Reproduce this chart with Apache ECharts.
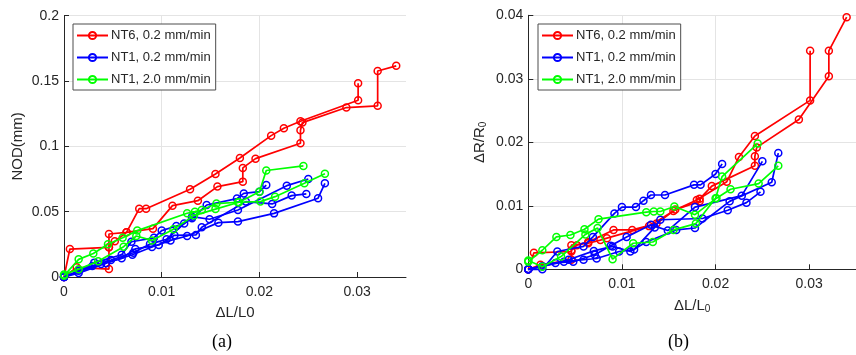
<!DOCTYPE html>
<html>
<head>
<meta charset="utf-8">
<script src="https://cdn.jsdelivr.net/npm/echarts@6/dist/echarts.min.js"></script>
<style>
  html, body { margin: 0; padding: 0; background: #ffffff; }
  #chart { width: 856px; height: 355px; }
</style>
</head>
<body>
<div id="chart"></div>
<script>
// Tick labels
const strainTicks = [0, 0.01, 0.02, 0.03];
const nodTicks = [0, 0.05, 0.1, 0.15, 0.2];
const resTicks = [0, 0.01, 0.02, 0.03, 0.04];
const legendNames = ['NT6, 0.2 mm/min', 'NT1, 0.2 mm/min', 'NT1, 2.0 mm/min'];

// NT6, 0.2 mm/min : two loading ramps (strain, NOD in mm, dR/R0)
const nt6aStrain = [0, 0.0006, 0.0046, 0.0046, 0.0064, 0.0077, 0.0084, 0.0129, 0.0155, 0.0180, 0.0212, 0.0225, 0.0242, 0.0301, 0.0301];
const nt6aNod    = [0, 0.0214, 0.0227, 0.0329, 0.0342, 0.0523, 0.0523, 0.0671, 0.0789, 0.0911, 0.1082, 0.1139, 0.1192, 0.1353, 0.1483];
const nt6aRes    = [0, 0.0026, 0.0028, 0.0038, 0.0041, 0.0046, 0.0049, 0.0068, 0.0092, 0.0109, 0.0138, 0.0177, 0.0210, 0.0266, 0.0344];

const nt6bStrain = [0, 0.0013, 0.0046, 0.0046, 0.0052, 0.0064, 0.0091, 0.0111, 0.0137, 0.0157, 0.0183, 0.0183, 0.0196, 0.0242, 0.0242, 0.0244, 0.0289, 0.0321, 0.0321, 0.0340];
const nt6bNod    = [0, 0.0074, 0.0061, 0.0227, 0.0273, 0.0342, 0.0370, 0.0546, 0.0584, 0.0692, 0.0730, 0.0835, 0.0906, 0.1024, 0.1123, 0.1182, 0.1297, 0.1310, 0.1577, 0.1616];
const nt6bRes    = [0, 0.0007, 0.0015, 0.0030, 0.0038, 0.0043, 0.0062, 0.0062, 0.0072, 0.0094, 0.0107, 0.0111, 0.0131, 0.0163, 0.0178, 0.0192, 0.0236, 0.0304, 0.0344, 0.0397];

// NT1, 0.2 mm/min : four loading ramps
const nt1aStrain = [0, 0.0015, 0.0031, 0.0059, 0.0069, 0.0092, 0.0100, 0.0115, 0.0123, 0.0131, 0.0146, 0.0177, 0.0184, 0.0200, 0.0207];
const nt1aNod    = [0, 0.0048, 0.0110, 0.0170, 0.0270, 0.0300, 0.0355, 0.0390, 0.0410, 0.0449, 0.0551, 0.0600, 0.0640, 0.0653, 0.0704];
const nt1aRes    = [0, 0.0000, 0.0028, 0.0036, 0.0051, 0.0088, 0.0098, 0.0098, 0.0108, 0.0117, 0.0117, 0.0133, 0.0133, 0.0150, 0.0166];

const nt1bStrain = [0, 0.0029, 0.0048, 0.0071, 0.0088, 0.0105, 0.0131, 0.0149, 0.0178, 0.0228, 0.0250];
const nt1bNod    = [0, 0.0085, 0.0130, 0.0186, 0.0253, 0.0289, 0.0462, 0.0442, 0.0513, 0.0699, 0.0750];
const nt1bRes    = [0, 0.0010, 0.0012, 0.0023, 0.0037, 0.0051, 0.0070, 0.0061, 0.0098, 0.0116, 0.0170];

const nt1cStrain = [0, 0.0038, 0.0059, 0.0073, 0.0097, 0.0113, 0.0135, 0.0141, 0.0186, 0.0213, 0.0233, 0.0248];
const nt1cNod    = [0, 0.0100, 0.0143, 0.0215, 0.0245, 0.0319, 0.0322, 0.0380, 0.0577, 0.0559, 0.0623, 0.0636];
const nt1cRes    = [0, 0.0012, 0.0015, 0.0017, 0.0028, 0.0031, 0.0066, 0.0078, 0.0080, 0.0093, 0.0105, 0.0122];

const nt1dStrain = [0, 0.0015, 0.0043, 0.0070, 0.0090, 0.0109, 0.0126, 0.0158, 0.0178, 0.0215, 0.0260, 0.0267];
const nt1dNod    = [0, 0.0030, 0.0105, 0.0170, 0.0230, 0.0280, 0.0314, 0.0416, 0.0424, 0.0487, 0.0603, 0.0717];
const nt1dRes    = [0, 0.0005, 0.0015, 0.0029, 0.0036, 0.0028, 0.0043, 0.0062, 0.0065, 0.0107, 0.0137, 0.0183];

// NT1, 2.0 mm/min : two loading ramps
const nt1fStrain = [0, 0.0015, 0.0030, 0.0045, 0.0060, 0.0075, 0.0126, 0.0134, 0.0141, 0.0156, 0.0178, 0.0201, 0.0216, 0.0246, 0.0267];
const nt1fNod    = [0.0010, 0.0135, 0.0180, 0.0250, 0.0300, 0.0355, 0.0488, 0.0500, 0.0513, 0.0562, 0.0572, 0.0577, 0.0615, 0.0717, 0.0790];
const nt1fRes    = [0.0012, 0.0030, 0.0051, 0.0054, 0.0063, 0.0079, 0.0090, 0.0091, 0.0091, 0.0099, 0.0086, 0.0112, 0.0126, 0.0135, 0.0163];

const nt1gStrain = [0, 0.0015, 0.0035, 0.0061, 0.0074, 0.0090, 0.0112, 0.0133, 0.0155, 0.0179, 0.0200, 0.0207, 0.0245];
const nt1gNod    = [0.0020, 0.0060, 0.0120, 0.0232, 0.0314, 0.0280, 0.0365, 0.0470, 0.0520, 0.0572, 0.0653, 0.0815, 0.0850];
const nt1gRes    = [0.0014, 0.0004, 0.0020, 0.0055, 0.0065, 0.0016, 0.0041, 0.0043, 0.0062, 0.0072, 0.0112, 0.0146, 0.0198];

const groups = [
  { name: legendNames[0], color: '#ff0000', curves: [
    [nt6aStrain, nt6aNod, nt6aRes], [nt6bStrain, nt6bNod, nt6bRes]] },
  { name: legendNames[1], color: '#0000ff', curves: [
    [nt1aStrain, nt1aNod, nt1aRes], [nt1bStrain, nt1bNod, nt1bRes],
    [nt1cStrain, nt1cNod, nt1cRes], [nt1dStrain, nt1dNod, nt1dRes]] },
  { name: legendNames[2], color: '#00ff00', curves: [
    [nt1fStrain, nt1fNod, nt1fRes], [nt1gStrain, nt1gNod, nt1gRes]] }
];

const ink = '#262626';
const gridInk = '#e4e4e4';
const sans = '"Liberation Sans", Arial, Helvetica, sans-serif';

function pairs(xs, ys) {
  return xs.map((x, i) => [x, ys[i]]);
}

const series = [];
groups.forEach((g, gi) => {
  g.curves.forEach(([xs, nod, res]) => {
    [nod, res].forEach((ys, panel) => {
      series.push({
        type: 'line',
        name: g.name,
        xAxisIndex: panel,
        yAxisIndex: panel,
        data: pairs(xs, ys),
        symbol: 'circle',
        symbolSize: 7,
        showSymbol: true,
        clip: false,
        z: 2 + gi,
        lineStyle: { color: g.color, width: 1.7 },
        itemStyle: { color: 'rgba(255,255,255,0)', borderColor: g.color, borderWidth: 1.5 },
        emphasis: { disabled: true },
        animation: false
      });
    });
  });
});

function valueAxis(gridIndex, max, interval, ticks, extra) {
  return Object.assign({
    type: 'value',
    gridIndex: gridIndex,
    min: 0,
    max: max,
    interval: interval,
    axisLine: { show: true, onZero: false, lineStyle: { color: ink, width: 1 } },
    axisTick: { show: true, inside: true, length: 5, customValues: ticks, lineStyle: { color: ink, width: 1 } },
    axisLabel: { customValues: ticks, color: ink, fontSize: 14, fontFamily: sans },
    splitLine: { show: true, lineStyle: { color: gridInk, width: 1 } },
    nameLocation: 'middle',
    nameTextStyle: {
      color: ink, fontSize: 15, fontFamily: sans,
      rich: {
        a: { fontSize: 15, lineHeight: 16, fontFamily: sans, color: ink },
        s: { fontSize: 10, lineHeight: 6, verticalAlign: 'bottom', fontFamily: sans, color: ink }
      }
    }
  }, extra);
}

const legendBase = {
  orient: 'vertical',
  data: legendNames,
  itemWidth: 31,
  itemHeight: 9,
  itemGap: 9,
  padding: [5, 5, 4, 3],
  backgroundColor: '#ffffff',
  borderColor: '#4d4d4d',
  borderWidth: 1,
  borderRadius: 0,
  selectedMode: false,
  textStyle: { color: ink, fontSize: 13, fontFamily: sans, padding: [0, 0, 0, -2] }
};

const option = {
  backgroundColor: '#ffffff',
  animation: false,
  grid: [
    { left: 64, top: 15.7, width: 342, height: 261.3 },
    { left: 528.3, top: 15.3, width: 336, height: 254 }
  ],
  xAxis: [
    valueAxis(0, 0.035, 0.01, strainTicks, {
      name: '{a|ΔL/L0}', nameGap: 28,
      axisLabel: { customValues: strainTicks, color: ink, fontSize: 14, fontFamily: sans, margin: 8 },
      splitLine: { show: true, showMaxLine: false, lineStyle: { color: gridInk, width: 1 } }
    }),
    valueAxis(1, 0.035, 0.01, strainTicks, {
      name: '{a|ΔL/L}{s|0}', nameGap: 29,
      axisLabel: { customValues: strainTicks, color: ink, fontSize: 14, fontFamily: sans, margin: 8 },
      splitLine: { show: true, showMaxLine: false, lineStyle: { color: gridInk, width: 1 } }
    })
  ],
  yAxis: [
    valueAxis(0, 0.2, 0.05, nodTicks, {
      name: '{a|NOD(mm)}', nameGap: 38,
      axisLabel: { customValues: nodTicks, color: ink, fontSize: 14, fontFamily: sans, margin: 5 }
    }),
    valueAxis(1, 0.04, 0.01, resTicks, {
      name: '{a|ΔR/R}{s|0}', nameGap: 40,
      axisLabel: { customValues: resTicks, color: ink, fontSize: 14, fontFamily: sans, margin: 5 }
    })
  ],
  legend: [
    Object.assign({ left: 73, top: 24 }, legendBase),
    Object.assign({ left: 538, top: 24 }, legendBase)
  ],
  graphic: [
    { type: 'text', left: 212, top: 333,
      style: { text: '(a)', fill: '#000000', font: '18px "Liberation Serif", "DejaVu Serif", serif' } },
    { type: 'text', left: 668, top: 333,
      style: { text: '(b)', fill: '#000000', font: '18px "Liberation Serif", "DejaVu Serif", serif' } }
  ],
  series: series
};

const chart = echarts.init(document.getElementById('chart'), null, { renderer: 'canvas' });
chart.setOption(option);
</script>
</body>
</html>
